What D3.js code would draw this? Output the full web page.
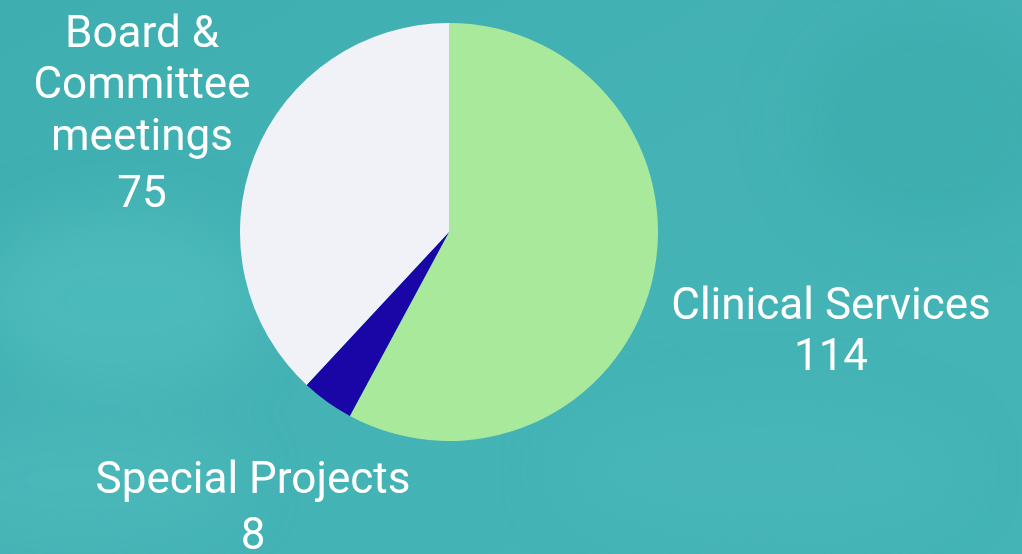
<!DOCTYPE html>
<html>
<head>
<meta charset="utf-8">
<script src="https://cdn.jsdelivr.net/npm/d3@7/dist/d3.min.js"></script>
<style>
  html, body { margin: 0; padding: 0; background: #44b2b4; }
  svg { display: block; }
</style>
</head>
<body>
<svg id="chart" width="1022" height="554"></svg>
<script>
// Meeting counts by category
const categories = ["Clinical Services", "Special Projects", "Board & Committee meetings"];
const values = [114, 8, 75];
const colors = ["#a8e99c", "#1a06a6", "#f0f2f7"];
// Label lines per slice (name lines followed by the value)
const labelLines = [
  ["Clinical Services", "114"],
  ["Special Projects", "8"],
  ["Board &", "Committee", "meetings", "75"]
];

const W = 1022, H = 554;
const svg = d3.select("#chart");
const defs = svg.append("defs");

// Soft teal backdrop
const bg = defs.append("linearGradient").attr("id", "bg")
  .attr("x1", "0").attr("y1", "0").attr("x2", "1").attr("y2", "1");
bg.append("stop").attr("offset", "0%").attr("stop-color", "#3eaeb0");
bg.append("stop").attr("offset", "50%").attr("stop-color", "#45b3b5");
bg.append("stop").attr("offset", "100%").attr("stop-color", "#44b4b6");
svg.append("rect").attr("width", W).attr("height", H).attr("fill", "url(#bg)");

const blur = defs.append("filter").attr("id", "soft")
  .attr("x", "-50%").attr("y", "-50%").attr("width", "200%").attr("height", "200%");
blur.append("feGaussianBlur").attr("stdDeviation", 30);
const haze = svg.append("g").attr("filter", "url(#soft)");
haze.append("ellipse").attr("cx", 120).attr("cy", 300).attr("rx", 140).attr("ry", 90)
  .attr("fill", "#52bfc0").attr("opacity", 0.6);
haze.append("ellipse").attr("cx", 80).attr("cy", 480).attr("rx", 160).attr("ry", 60)
  .attr("fill", "#4fbcbd").attr("opacity", 0.5);
haze.append("ellipse").attr("cx", 930).attr("cy", 120).attr("rx", 130).attr("ry", 110)
  .attr("fill", "#3aa9aa").attr("opacity", 0.5);
haze.append("ellipse").attr("cx", 760).attr("cy", 470).attr("rx", 200).attr("ry", 70)
  .attr("fill", "#4bbabb").attr("opacity", 0.5);

// Pie
const cx = 449, cy = 232, r = 209;
const pie = d3.pie().sort(null).value(d => d)(values);
const arc = d3.arc().innerRadius(0).outerRadius(r);

const g = svg.append("g").attr("transform", `translate(${cx},${cy})`);
g.selectAll("path").data(pie).join("path")
  .attr("d", arc)
  .attr("fill", (d, i) => colors[i]);

// Labels
const labelPos = [
  { x: 831, y: [319, 370] },
  { x: 253, y: [493, 549] },
  { x: 142, y: [47, 98, 150, 207] }
];
const font = "Roboto, 'Noto Sans', sans-serif";
labelLines.forEach((lines, i) => {
  const t = svg.append("text")
    .attr("text-anchor", "middle")
    .attr("fill", "#ffffff")
    .attr("font-family", font)
    .attr("font-size", 44);
  lines.forEach((line, j) => {
    t.append("tspan").attr("x", labelPos[i].x).attr("y", labelPos[i].y[j]).text(line);
  });
});
</script>
</body>
</html>
